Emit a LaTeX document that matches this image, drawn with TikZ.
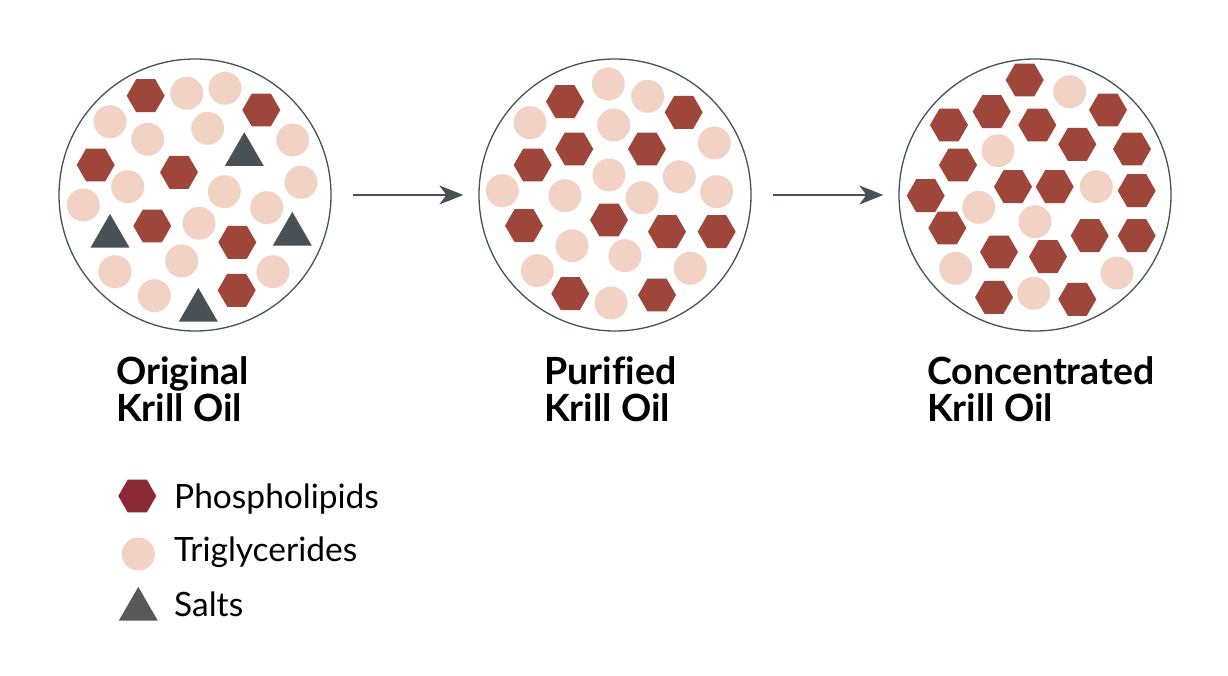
\documentclass[tikz,border=0pt]{standalone}
\usepackage{fontspec}
\setmainfont{Lato}[Ligatures=NoCommon]
\usepackage{tikz}
\usetikzlibrary{arrows.meta,shapes.geometric}

\definecolor{hexred}{HTML}{9E463A}
\definecolor{legred}{HTML}{8A2A36}
\definecolor{peach}{HTML}{F2D2C4}
\definecolor{slate}{HTML}{475156}
\definecolor{leggray}{HTML}{58585A}

\begin{document}
\begin{tikzpicture}[x=1pt,y=-1pt]

	\tikzstyle sample=[circle, draw=slate, line width=1.3pt, minimum size=272pt, inner sep=0pt];
	\tikzstyle phospho=[regular polygon, regular polygon sides=6, fill=hexred, minimum size=38pt, inner sep=0pt];
	\tikzstyle trigly=[circle, fill=peach, minimum size=33pt, inner sep=0pt];
	\tikzstyle salt=[regular polygon, regular polygon sides=3, fill=slate, minimum size=45pt, inner sep=0pt];
	\tikzstyle flow=[draw=slate, line width=1.5pt, -{Stealth[length=24pt,width=19pt,inset=7pt]}];
	\tikzstyle title=[anchor=base west, inner sep=0pt, align=left, font=\fontsize{37.5}{37}\selectfont\bfseries];
	\tikzstyle legend=[anchor=base west, inner sep=0pt, font=\fontsize{33.5}{37}\selectfont];

	\useasboundingbox (0,0) rectangle (1228,676);

	% the three samples
	\node[sample] (orig) at (195,195) {};
	\node[sample] (puri) at (615,195) {};
	\node[sample] (conc) at (1035,195) {};

	\draw[flow, shorten <=21pt, shorten >=15pt] (orig) -- (puri);
	\draw[flow, shorten <=21pt, shorten >=15pt] (puri) -- (conc);

	% original krill oil
	\foreach \x/\y [count=\i] in {145.7/95.7,261.3/110,95.7/165,179/172.3,152.3/226,237.3/242.3,236.7/290.3}
		\node[phospho] (oa\i) at (\x,\y) {};
	\foreach \x/\y [count=\i] in {186.7/93.3,225/88.3,110/121.7,147.7/139.3,207.7/128.3,292.7/140,127.7/186.7,301/182.3,
			83.3/205,224.3/191.7,266.7/207.7,199/223.3,181.7/261,115/271.7,273/271.7,154.3/295.7}
		\node[trigly] (ob\i) at (\x,\y) {};
	\foreach \x/\y [count=\i] in {244.3/154.7,110/236.4,292.3/234.4,198.3/310.4}
		\node[salt] (oc\i) at (\x,\y) {};

	% purified krill oil
	\foreach \x/\y [count=\i] in {565/101.7,683.7/112.3,574.3/149,647/149,532.7/165,609/220,524/225.7,
			667/231.7,716.7/231.7,570.3/293.7,657/295}
		\node[phospho] (pa\i) at (\x,\y) {};
	\foreach \x/\y [count=\i] in {608.3/84,647.7/96.3,530/122.7,613.7/125,714.3/143,609/175,679.3/176.7,502.3/190.7,
			565/195.7,642/197.7,716.7/191.7,572/245.7,625/255.7,537.3/270.7,690.3/268.3,611/303}
		\node[trigly] (pb\i) at (\x,\y) {};

	% concentrated krill oil
	\foreach \x/\y [count=\i] in {1024.7/80,1108/110,991.7/111.7,949/125,1037.3/125,1077.3/144.3,1132/149,958/165,
			1013/186.7,1054.7/186.7,925.7/195.7,1136.7/190.7,947.3/228,1089.7/235.7,1136.7/235.7,
			999/252,1048/256.7,994/297.3,1077.3/299.3}
		\node[phospho] (ca\i) at (\x,\y) {};
	\foreach \x/\y [count=\i] in {1069.7/91.7,998/150.7,1096.3/186.7,978.7/207.3,1035/221.7,955.7/268.3,1117/273,1033.7/293.3}
		\node[trigly] (cb\i) at (\x,\y) {};

	% titles (base anchor sits on the second line)
	\node[title] (torig) at (116,421) {Original\\Krill Oil};
	\node[title] (tpuri) at (544,421) {Purified\\Krill Oil};
	\node[title] (tconc) at (927,421) {Concentrated\\Krill Oil};

	% legend
	\node[phospho, fill=legred] (kphospho) at (137.3,496) {};
	\node[trigly] (ktrigly) at (138.3,554) {};
	\node[salt, fill=leggray] (ksalt) at (138.3,609.4) {};
	\node[legend] (lphospho) at (174,508) {Phospholipids};
	\node[legend] (ltrigly) at (174,561.7) {Triglycerides};
	\node[legend] (lsalt) at (174,616.7) {Salts};

\end{tikzpicture}
\end{document}
